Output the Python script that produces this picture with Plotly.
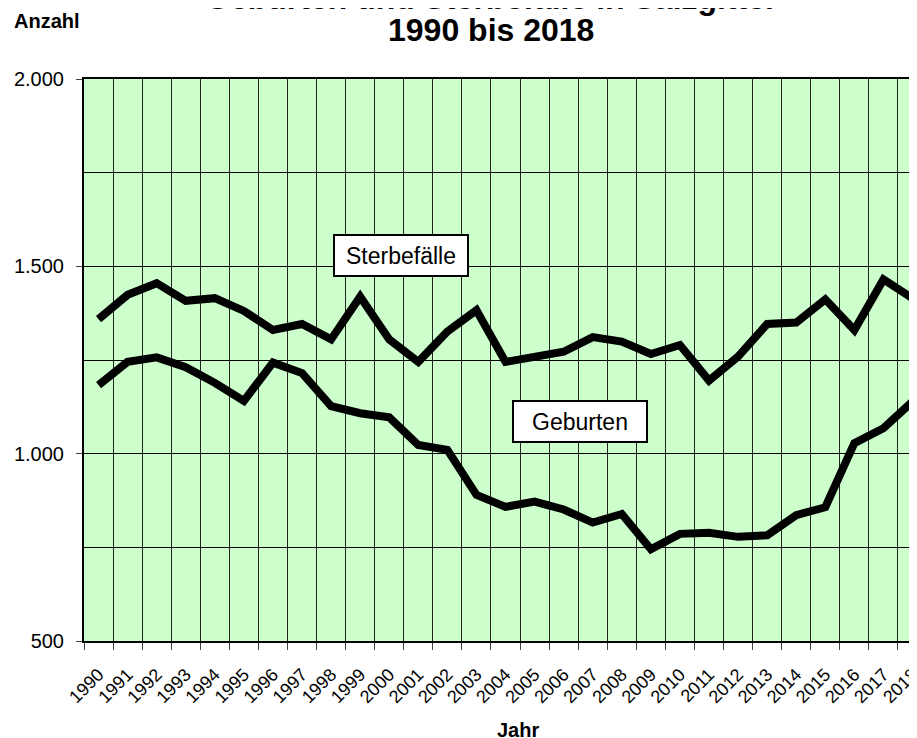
import plotly.graph_objects as go

years = [str(y) for y in range(1990, 2019)]
sterbefaelle = [1359, 1424, 1455, 1408, 1415, 1381, 1330, 1346, 1305, 1419,
                1305, 1245, 1326, 1383, 1245, 1259, 1272, 1311, 1299, 1266,
                1290, 1195, 1259, 1346, 1350, 1412, 1330, 1465, 1415]
geburten = [1183, 1245, 1257, 1231, 1189, 1141, 1243, 1215, 1127, 1108,
            1097, 1023, 1010, 890, 858, 872, 851, 816, 839, 745,
            786, 789, 778, 782, 836, 857, 1028, 1068, 1139]
y_ticks = [500, 1000, 1500, 2000]

FONT = "Arial, Liberation Sans, sans-serif"
OFF = 8  # page body margin
W, H = 917, 738
L, T, R = 84 - OFF, 79 - OFF, 0
B = H - (641 - OFF)
plot_h = H - T - B
plot_w = W - L - R
step = 29.07
x_max = -0.5 + plot_w / step


def py(p):
    return (H - B - (p - OFF)) / plot_h


def px(p):
    return (p - OFF - L) / plot_w


fig = go.Figure()
for name, vals in [("Sterbefälle", sterbefaelle), ("Geburten", geburten)]:
    fig.add_trace(go.Scatter(x=years, y=vals, mode="lines", name=name,
                             line=dict(color="black", width=8),
                             showlegend=False))

fig.update_layout(
    width=W, height=H,
    margin=dict(l=L, r=R, t=T, b=B, pad=0),
    paper_bgcolor="white",
    plot_bgcolor="#CCFFCC",
    separators=",.",
    font=dict(family=FONT, color="black"),
    xaxis=dict(
        type="category", categoryorder="array", categoryarray=years,
        range=[-0.5, x_max], tickson="boundaries",
        showgrid=True, gridcolor="#222", gridwidth=1,
        ticks="outside", ticklen=7, tickcolor="#444", tickwidth=1,
        tickangle=-45, tickfont=dict(size=18, family=FONT),
        ticklabelstandoff=14,
        showline=True, linecolor="black", linewidth=2, mirror=True,
        zeroline=False,
    ),
    yaxis=dict(
        range=[500, 2000], tickvals=y_ticks, tickformat=",d",
        showgrid=True, gridcolor="black", gridwidth=1,
        minor=dict(dtick=250, showgrid=True, gridcolor="black", gridwidth=1, ticks=""),
        ticks="outside", ticklen=6, tickcolor="#444", tickwidth=1,
        tickfont=dict(size=20, family=FONT),
        ticklabelstandoff=8,
        showline=True, linecolor="black", linewidth=2,
        zeroline=False,
    ),
)

annots = [
    dict(text="<b>Geburten und Sterbefälle in Salzgitter</b>", x=px(491), y=py(-2.5),
         xanchor="center", yanchor="middle", font=dict(size=32)),
    dict(text="<b>1990 bis 2018</b>", x=px(491), y=py(30),
         xanchor="center", yanchor="middle", font=dict(size=32)),
    dict(text="<b>Anzahl</b>", x=px(12), y=py(21),
         xanchor="left", yanchor="middle", font=dict(size=20)),
    dict(text="<b>Jahr</b>", x=px(517.7), y=py(730),
         xanchor="center", yanchor="middle", font=dict(size=20)),
]
for a in annots:
    a.update(xref="paper", yref="paper", showarrow=False)
    fig.add_annotation(**a)

for label, cx, cy in [("Sterbefälle", 401.3, 255.3), ("Geburten", 580, 421.7)]:
    fig.add_annotation(text=label, xref="paper", yref="paper",
                       x=px(cx), y=py(cy), xanchor="center", yanchor="middle",
                       showarrow=False, font=dict(size=23, family=FONT),
                       bgcolor="white", bordercolor="black", borderwidth=2,
                       borderpad=2, width=128, height=35)

fig.write_html("out.html")
